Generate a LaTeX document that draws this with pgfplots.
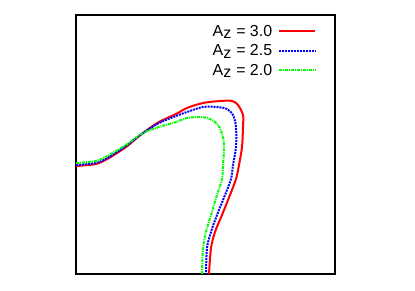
\documentclass[border=0pt]{standalone}
\usepackage{pgfplots}
\pgfplotsset{compat=1.18}
\usepackage{fontspec}
\setmainfont{Liberation Sans}
\begin{document}
\begin{tikzpicture}
\begin{axis}[
  scale only axis, width=259bp, height=259bp,
  xmin=0, xmax=259, ymin=0, ymax=259,
  xtick=\empty, ytick=\empty,
  axis line style={line width=1.8pt},
  legend plot pos=right,
  legend image code/.code={\path (0bp,0bp); \draw[#1] (4bp,0bp) -- (40bp,0bp);},
  legend style={draw=none, fill=none, at={(0.928,0.97)}, anchor=north east,
    font=\fontsize{16}{19}\selectfont, row sep=3pt, inner sep=0pt},
  legend cell align=right,
]
\addplot[red, line width=2pt, smooth] coordinates {
(0,108) (20,110) (33,116) (50,127) (67,141) (83,152) (100,160) (111,166) (127,171) (144,173) (156,173) (162,169) (167,159) (167,147) (166,127) (163,109) (160,95) (154,79) (146,59) (139,42) (135,26) (133,0)};
\addlegendentry{A$_{\textrm{z}}$ = 3.0}
\addplot[blue, line width=2pt, densely dotted, smooth] coordinates {
(0,109) (20,111) (33,117) (50,128) (67,141) (83,151) (100,158) (111,162) (127,167) (141,167) (151,165) (157,159) (160,147) (160,127) (157,109) (155,95) (149,79) (141,59) (135,42) (131,26) (130,0)};
\addlegendentry{A$_{\textrm{z}}$ = 2.5}
\addplot[green, line width=2pt, dash pattern=on 3pt off 1pt on 1pt off 1pt, smooth] coordinates {
(0,111) (20,113) (33,119) (50,129) (67,141) (83,147) (100,152) (111,156) (124,157) (134,155) (142,149) (147,137) (148,124) (147,109) (146,95) (141,79) (135,59) (130,42) (127,26) (126,0)};
\addlegendentry{A$_{\textrm{z}}$ = 2.0}
\end{axis}
\useasboundingbox ([shift={(-76bp,-17bp)}]current axis.south west) rectangle ([shift={(80bp,15bp)}]current axis.north east);
\end{tikzpicture}
\end{document}
